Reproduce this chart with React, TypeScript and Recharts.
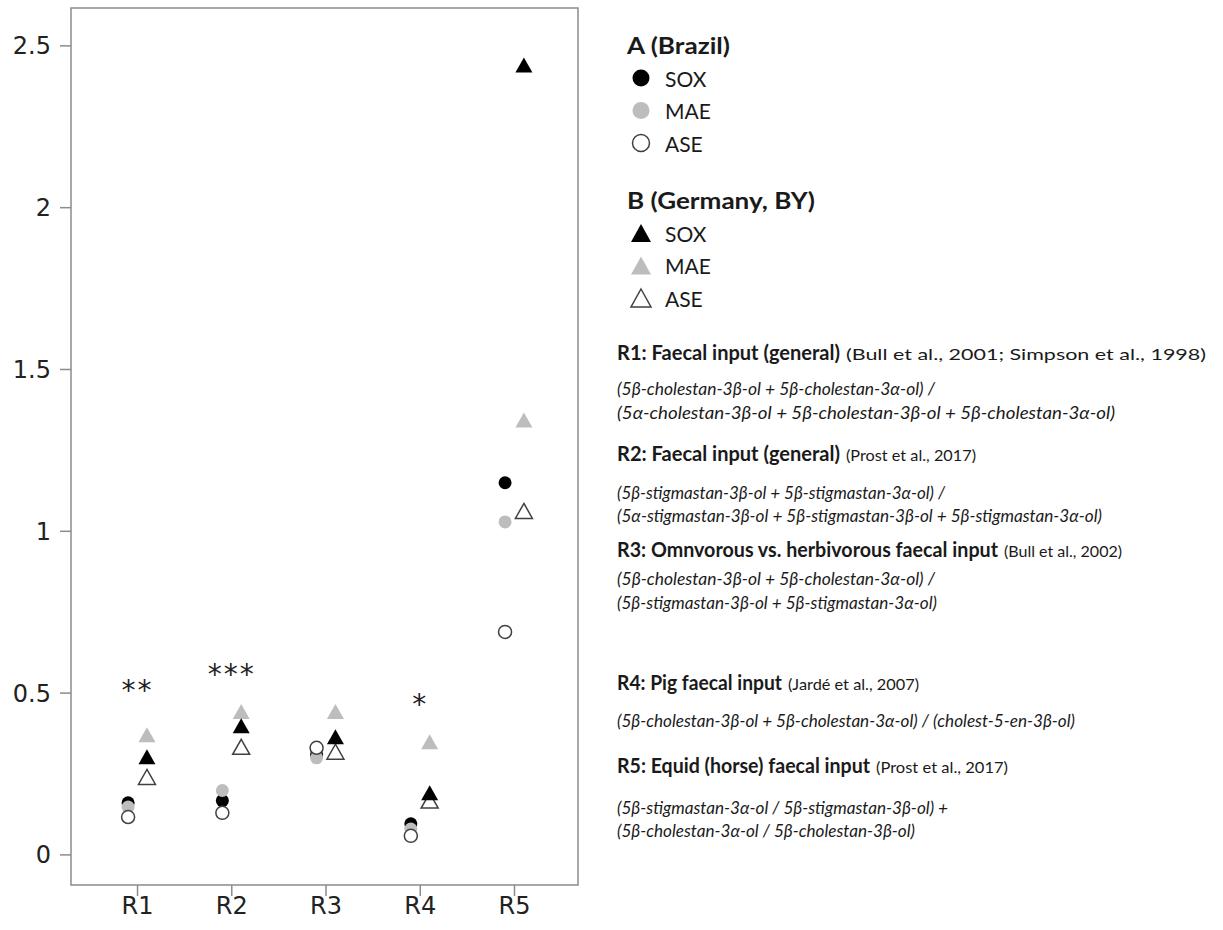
import React from 'react';
import { ScatterChart, Scatter, XAxis, YAxis, ReferenceArea } from 'recharts';

const categories = ['R1', 'R2', 'R3', 'R4', 'R5'];

// A (Brazil): circles
const brazilSox = [0.161, 0.168, 0.31, 0.096, 1.15];
const brazilMae = [0.148, 0.199, 0.3, 0.08, 1.029];
const brazilAse = [0.117, 0.13, 0.331, 0.059, 0.689];

// B (Germany, BY): triangles
const germanySox = [0.303, 0.399, 0.365, 0.192, 2.441];
const germanyMae = [0.371, 0.443, 0.443, 0.35, 1.344];
const germanyAse = [0.241, 0.334, 0.319, 0.168, 1.063];

const sigMarks = ['**', '***', '', '*', ''];
const sigLevels = [0.516, 0.566, 0, 0.474, 0];

const yTicks = [0, 0.5, 1, 1.5, 2, 2.5];
const xDomain: [number, number] = [0.294, 5.674];
const yDomain: [number, number] = [-0.093, 2.617];

const legendTitles = ['A (Brazil)', 'B (Germany, BY)'];
const methodLabels = ['SOX', 'MAE', 'ASE'];

const ratioTitles = [
  'R1: Faecal input (general)',
  'R2: Faecal input (general)',
  'R3: Omnvorous vs. herbivorous faecal input',
  'R4: Pig faecal input',
  'R5: Equid (horse) faecal input',
];
const ratioRefs = [
  '(Bull et al., 2001; Simpson et al., 1998)',
  '(Prost et al., 2017)',
  '(Bull et al., 2002)',
  '(Jardé et al., 2007)',
  '(Prost et al., 2017)',
];
const ratioFormulas = [
  ['(5β-cholestan-3β-ol + 5β-cholestan-3α-ol) /', '(5α-cholestan-3β-ol + 5β-cholestan-3β-ol + 5β-cholestan-3α-ol)'],
  ['(5β-stigmastan-3β-ol + 5β-stigmastan-3α-ol) /', '(5α-stigmastan-3β-ol + 5β-stigmastan-3β-ol + 5β-stigmastan-3α-ol)'],
  ['(5β-cholestan-3β-ol + 5β-cholestan-3α-ol) /', '(5β-stigmastan-3β-ol + 5β-stigmastan-3α-ol)'],
  ['(5β-cholestan-3β-ol + 5β-cholestan-3α-ol) / (cholest-5-en-3β-ol)'],
  ['(5β-stigmastan-3α-ol / 5β-stigmastan-3β-ol) +', '(5β-cholestan-3α-ol / 5β-cholestan-3β-ol)'],
];

// layout of the text panel on the right
const titleY = [352, 453, 549, 682, 765];
const titleW = [223, 223, 381, 165, 253];
const refW = [360, 130, 118, 131, 132];
const formulaY = [[388, 412], [492, 515], [578, 602], [720], [807, 830]];
const formulaW = [[318, 498], [328, 485], [318, 320], [458], [331, 298]];

const BLACK = '#000000';
const GREY = '#bdbdbd';
const EDGE = '#404040';
const TEXT = '#1a1a1a';
const PANEL_FONT = 'Lato, "Open Sans", sans-serif';
const AXIS_FONT = '"DejaVu Sans", Verdana, sans-serif';

type Kind = 'circle' | 'triangle';

const Marker = ({ cx, cy, kind, fill, big }: { cx: number; cy: number; kind: Kind; fill: string; big?: boolean }) => {
  const open = fill === 'none';
  const f = open ? '#ffffff' : fill;
  const stroke = open ? EDGE : 'none';
  if (kind === 'circle') {
    return <circle cx={cx} cy={cy} r={big ? 8.5 : 6.5} fill={f} stroke={stroke} strokeWidth={1.5} />;
  }
  const w = big ? 20 : 17;
  const h = big ? 18 : 15;
  return (
    <polygon
      points={`${cx},${cy - h / 2} ${cx + w / 2},${cy + h / 2} ${cx - w / 2},${cy + h / 2}`}
      fill={f}
      stroke={stroke}
      strokeWidth={1.5}
    />
  );
};

const toPoints = (values: number[], offset: number) =>
  values.map((v, i) => ({ x: i + 1 + offset, y: v }));

const series: { key: string; kind: Kind; fill: string; data: number[] }[] = [
  { key: 'bSox', kind: 'circle', fill: BLACK, data: brazilSox },
  { key: 'bMae', kind: 'circle', fill: GREY, data: brazilMae },
  { key: 'bAse', kind: 'circle', fill: 'none', data: brazilAse },
  { key: 'gAse', kind: 'triangle', fill: 'none', data: germanyAse },
  { key: 'gMae', kind: 'triangle', fill: GREY, data: germanyMae },
  { key: 'gSox', kind: 'triangle', fill: BLACK, data: germanySox },
];

const legendFills = [BLACK, GREY, 'none'];

const sigData = sigMarks
  .map((m, i) => ({ x: i + 1, y: sigLevels[i], label: m }))
  .filter((d) => d.label !== '');

const RightPanel = () => {
  const groupKinds: Kind[] = ['circle', 'triangle'];
  const groupY = [45, 200];
  return (
    <svg width={1223} height={930} style={{ position: 'absolute', left: 0, top: 0, pointerEvents: 'none' }}>
      {legendTitles.map((t, g) => (
        <g key={t}>
          <text x={627} y={groupY[g]} dominantBaseline="central" fontFamily={PANEL_FONT} fontWeight={700} fontSize={22} fill={TEXT}
            textLength={g === 0 ? 103 : 188} lengthAdjust="spacingAndGlyphs">
            {t}
          </text>
          {methodLabels.map((m, j) => {
            const y = groupY[g] + 33 + j * 32.5;
            return (
              <g key={m}>
                <Marker cx={641} cy={y} kind={groupKinds[g]} fill={legendFills[j]} big />
                <text x={665} y={y} dominantBaseline="central" fontFamily={PANEL_FONT} fontSize={21} fill={TEXT}>
                  {m}
                </text>
              </g>
            );
          })}
        </g>
      ))}
      {ratioTitles.map((t, i) => (
        <g key={i}>
          <text x={617} y={titleY[i]} dominantBaseline="central" fontFamily={PANEL_FONT} fontWeight={700} fontSize={20} fill={TEXT}
            textLength={titleW[i]} lengthAdjust="spacingAndGlyphs">
            {t}
          </text>
          <text x={617 + titleW[i] + 6} y={titleY[i] + 1} dominantBaseline="central" fontFamily={PANEL_FONT} fontSize={16} fill={TEXT}
            textLength={refW[i]} lengthAdjust="spacingAndGlyphs">
            {ratioRefs[i]}
          </text>
          {ratioFormulas[i].map((f, k) => (
            <text key={k} x={617} y={formulaY[i][k]} dominantBaseline="central" fontFamily={PANEL_FONT} fontStyle="italic" fontSize={17} fill={TEXT}
              textLength={formulaW[i][k]} lengthAdjust="spacingAndGlyphs">
              {f}
            </text>
          ))}
        </g>
      ))}
    </svg>
  );
};

export default function App() {
  return (
    <div style={{ position: 'absolute', left: 0, top: 0, width: 1223, height: 930, background: '#fff' }}>
      <ScatterChart width={600} height={930} margin={{ top: 8, right: 22, bottom: 0, left: 0 }}>
        <XAxis
          dataKey="x"
          type="number"
          domain={xDomain}
          ticks={[1, 2, 3, 4, 5]}
          tickFormatter={(v: number) => categories[Math.round(v) - 1]}
          allowDataOverflow
          axisLine={false}
          tickSize={11}
          tickMargin={1}
          height={45}
          tickLine={{ stroke: '#8c8c8c', strokeWidth: 1.5 }}
          tick={{ fill: '#222', fontSize: 24, fontFamily: AXIS_FONT }}
        />
        <YAxis
          dataKey="y"
          type="number"
          domain={yDomain}
          ticks={yTicks}
          allowDataOverflow
          axisLine={false}
          width={71}
          tickSize={11}
          tickMargin={9}
          tickLine={{ stroke: '#8c8c8c', strokeWidth: 1.5 }}
          tick={{ fill: '#222', fontSize: 24, fontFamily: AXIS_FONT }}
        />
        <ReferenceArea
          x1={xDomain[0]}
          x2={xDomain[1]}
          y1={yDomain[0]}
          y2={yDomain[1]}
          fill="none"
          stroke="#8c8c8c"
          strokeWidth={1.5}
          ifOverflow="visible"
        />
        {series.map((s) => (
          <Scatter
            key={s.key}
            data={toPoints(s.data, s.kind === 'circle' ? -0.1 : 0.1)}
            isAnimationActive={false}
            shape={(p: any) => <Marker cx={p.cx} cy={p.cy} kind={s.kind} fill={s.fill} />}
          />
        ))}
        <Scatter
          data={sigData}
          isAnimationActive={false}
          shape={(p: any) => (
            <text x={p.cx} y={p.cy + 12} textAnchor="middle" fontFamily={AXIS_FONT} fontSize={28} letterSpacing={2} fill="#222">
              {p.payload.label}
            </text>
          )}
        />
      </ScatterChart>
      <RightPanel />
    </div>
  );
}
